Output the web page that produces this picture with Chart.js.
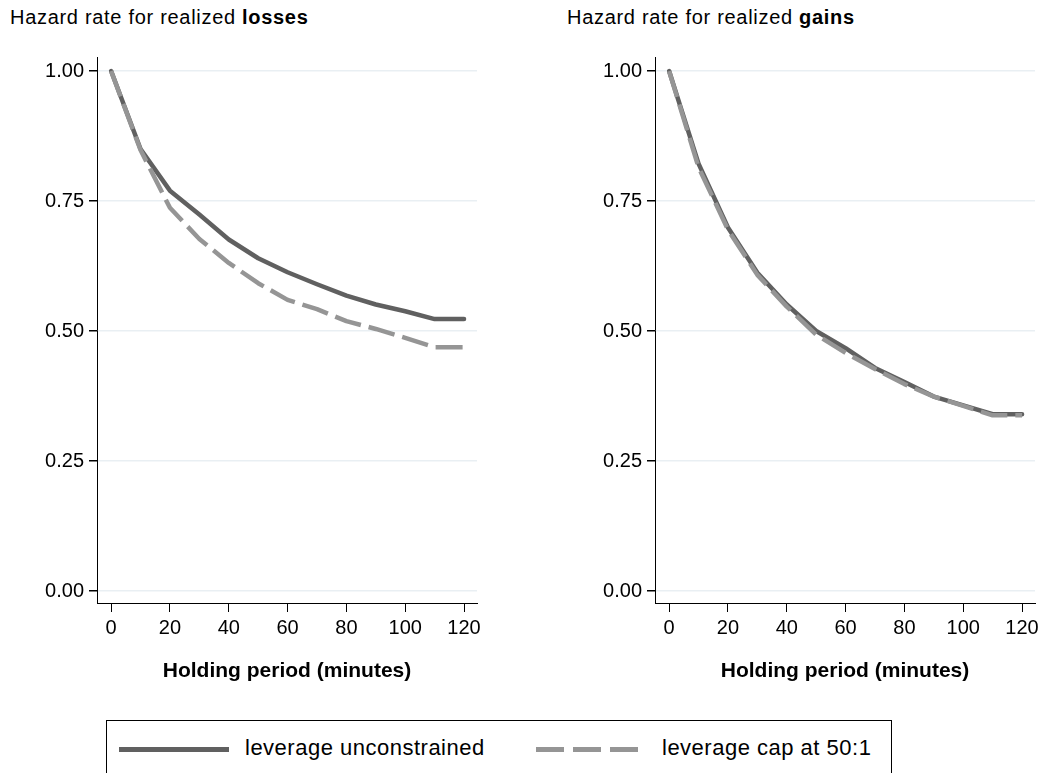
<!DOCTYPE html>
<html>
<head>
  <meta charset="utf-8">
  <title>Hazard rate for realized losses and gains</title>
  <script src="https://cdn.jsdelivr.net/npm/chart.js"></script>
  <style>
    html, body {
      margin: 0;
      padding: 0;
      background: #fff;
      font-family: 'Liberation Sans', Arial, sans-serif;
    }

    #wrap {
      position: relative;
      width: 1045px;
      height: 773px;
      overflow: hidden;
    }

    .ttl {
      position: absolute;
      top: 7px;
      font-size: 20px;
      line-height: 20px;
      letter-spacing: 0.7px;
      color: #000;
      white-space: nowrap;
    }

    canvas {
      position: absolute;
      top: 0;
    }

    #legend {
      position: absolute;
      left: 106px;
      top: 720px;
      width: 784px;
      height: 80px;
      border: 1.5px solid #000;
    }

    .sample {
      position: absolute;
      top: 26px;
      height: 5px;
    }

    .ltext {
      position: absolute;
      top: 14px;
      font-size: 22px;
      line-height: 26px;
      letter-spacing: 0.5px;
      white-space: nowrap;
    }
  </style>
</head>
<body>

<div id="wrap">
  <div class="ttl" style="left:10px">Hazard rate for realized <b>losses</b></div>
  <div class="ttl" style="left:567px">Hazard rate for realized <b>gains</b></div>

  <canvas id="lossChart" width="520" height="700" style="left:0"></canvas>
  <canvas id="gainChart" width="525" height="700" style="left:520px"></canvas>

  <div id="legend">
    <div class="sample" style="left:12px;width:110px;background:#606060"></div>
    <div class="ltext" style="left:138px">leverage unconstrained</div>
    <div class="sample" style="left:429px;width:104px;background:repeating-linear-gradient(to right,#959595 0 28px,transparent 28px 37px)"></div>
    <div class="ltext" style="left:555px">leverage cap at 50:1</div>
  </div>
</div>

<script>
  // holding period in minutes
  const minutes = [0, 10, 20, 30, 40, 50, 60, 70, 80, 90, 100, 110, 120];

  // hazard rate for realized losses
  const lossUnconstrained = [1.00, 0.850, 0.770, 0.724, 0.676, 0.640, 0.613, 0.590, 0.568, 0.551, 0.538, 0.523, 0.523];
  const lossCapped        = [1.00, 0.848, 0.737, 0.677, 0.631, 0.592, 0.560, 0.542, 0.519, 0.504, 0.487, 0.469, 0.469];

  // hazard rate for realized gains
  const gainUnconstrained = [1.00, 0.822, 0.699, 0.612, 0.551, 0.500, 0.467, 0.429, 0.402, 0.374, 0.357, 0.340, 0.340];
  const gainCapped        = [1.00, 0.815, 0.695, 0.608, 0.547, 0.493, 0.458, 0.427, 0.398, 0.374, 0.356, 0.338, 0.338];

  const xTicks = [0, 20, 40, 60, 80, 100, 120];
  const yTicks = [0, 0.25, 0.50, 0.75, 1.00];

  Chart.defaults.font.family = "'Liberation Sans', Arial, sans-serif";
  Chart.defaults.color = '#000';

  function points(ys) {
    return minutes.map((m, i) => ({ x: m, y: ys[i] }));
  }

  function makeChart(id, solid, dashed, axisWidth, padRight) {
    const ctx = document.getElementById(id).getContext('2d');
    return new Chart(ctx, {
      type: 'line',
      data: {
        datasets: [
          {
            label: 'leverage cap at 50:1',
            data: points(dashed),
            borderColor: '#959595',
            borderWidth: 4.5,
            borderDash: [27, 8],
            borderCapStyle: 'butt',
            borderJoinStyle: 'round',
            pointRadius: 0,
            fill: false,
            order: 0
          },
          {
            label: 'leverage unconstrained',
            data: points(solid),
            borderColor: '#606060',
            borderWidth: 4.5,
            borderCapStyle: 'round',
            borderJoinStyle: 'round',
            pointRadius: 0,
            fill: false,
            order: 1
          }
        ]
      },
      options: {
        responsive: false,
        animation: false,
        layout: { padding: { top: 57, right: padRight, left: 0, bottom: 0 } },
        plugins: {
          legend: { display: false },
          tooltip: { enabled: false }
        },
        scales: {
          x: {
            type: 'linear',
            min: -4.8,
            max: 124.4,
            afterBuildTicks: s => { s.ticks = xTicks.map(v => ({ value: v })); },
            afterFit: s => { s.height = 97; },
            border: { color: '#000', width: 1 },
            grid: { drawOnChartArea: false, tickColor: '#000', tickLength: 9 },
            ticks: { font: { size: 20 }, padding: 4, maxRotation: 0 },
            title: {
              display: true,
              text: 'Holding period (minutes)',
              font: { size: 21, weight: 'bold' },
              padding: { top: 0, bottom: 16 }
            }
          },
          y: {
            min: -0.023,
            max: 1.027,
            afterBuildTicks: s => { s.ticks = yTicks.map(v => ({ value: v })); },
            afterFit: s => { s.width = axisWidth; },
            border: { color: '#000', width: 1 },
            grid: { color: '#e9eff3', lineWidth: 1.5, tickColor: '#000', tickLength: 8 },
            ticks: {
              font: { size: 20 },
              padding: 5,
              callback: v => v.toFixed(2)
            }
          }
        }
      }
    });
  }

  makeChart('lossChart', lossUnconstrained, lossCapped, 97, 43);
  makeChart('gainChart', gainUnconstrained, gainCapped, 135, 10);
</script>

</body>
</html>
